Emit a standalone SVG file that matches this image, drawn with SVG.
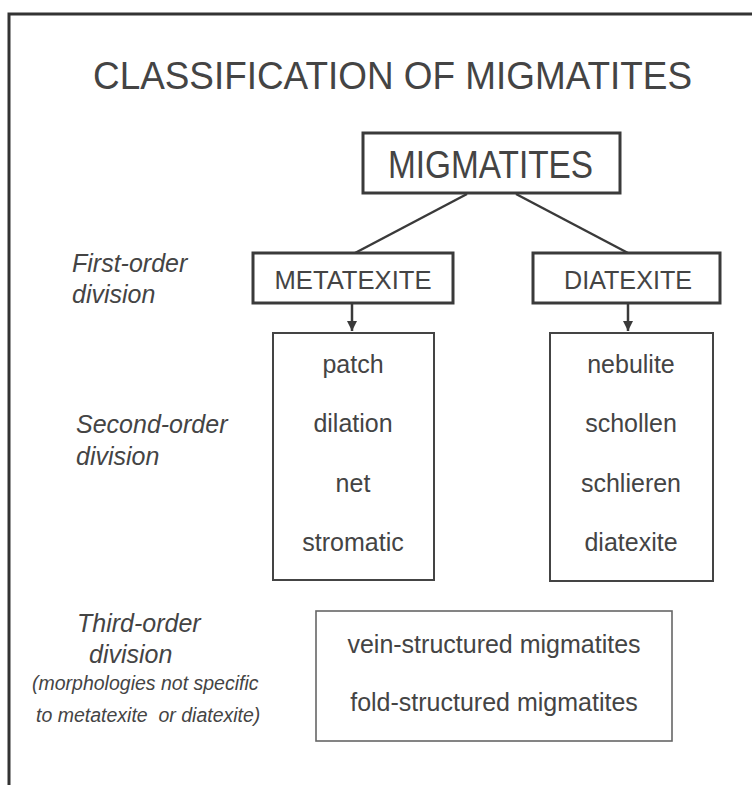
<svg xmlns="http://www.w3.org/2000/svg" width="752" height="785" viewBox="0 0 752 785">
<defs>
<style>
text{font-family:"Liberation Sans",Arial,sans-serif;fill:#444}
.big{font-size:38px}
.hdr{font-size:25px;text-anchor:middle}
.item{font-size:25px;text-anchor:middle}
.lbl{font-size:25px;font-style:italic}
.note{font-size:19.5px;font-style:italic}
.box1{fill:#fff;stroke:#3a3a3a;stroke-width:3}
.box2{fill:#fff;stroke:#444;stroke-width:2}
.box3{fill:#fff;stroke:#666;stroke-width:1.6}
.conn{stroke:#3a3a3a;stroke-width:2.5;fill:none}
</style>
<marker id="ah" viewBox="0 0 10 10" refX="10" refY="5" markerWidth="4" markerHeight="4.5" orient="auto" markerUnits="strokeWidth">
<path d="M0,0 L10,5 L0,10 z" fill="#3a3a3a"/>
</marker>
</defs>
<rect width="752" height="785" fill="#fff"/>
<g id="frame">
<path d="M9,785 V14 H752" fill="none" stroke="#333" stroke-width="3"/>
</g>
<g id="title">
<text class="big" x="93" y="89" textLength="599" lengthAdjust="spacingAndGlyphs">CLASSIFICATION OF MIGMATITES</text>
</g>
<g id="connectors">
<line class="conn" x1="467" y1="194" x2="355" y2="253"/>
<line class="conn" x1="516" y1="194" x2="628" y2="253"/>
<line class="conn" x1="352" y1="303" x2="352" y2="331" marker-end="url(#ah)"/>
<line class="conn" x1="628" y1="303" x2="628" y2="331" marker-end="url(#ah)"/>
</g>
<g id="migmatites">
<rect class="box1" x="363" y="133" width="257" height="60"/>
<text class="big" x="388" y="178" textLength="205" lengthAdjust="spacingAndGlyphs">MIGMATITES</text>
</g>
<g id="metatexite">
<rect class="box1" x="253" y="253" width="200" height="50"/>
<text class="hdr" x="353" y="289" textLength="157" lengthAdjust="spacingAndGlyphs">METATEXITE</text>
</g>
<g id="diatexite">
<rect class="box1" x="533" y="253" width="187" height="50"/>
<text class="hdr" x="628" y="289" textLength="128" lengthAdjust="spacingAndGlyphs">DIATEXITE</text>
</g>
<g id="metatexite-types">
<rect class="box2" x="273" y="333" width="161" height="247"/>
<text class="item" x="353" y="373">patch</text>
<text class="item" x="353" y="432">dilation</text>
<text class="item" x="353" y="492">net</text>
<text class="item" x="353" y="551">stromatic</text>
</g>
<g id="diatexite-types">
<rect class="box2" x="550" y="333" width="163" height="248"/>
<text class="item" x="631" y="373">nebulite</text>
<text class="item" x="631" y="432">schollen</text>
<text class="item" x="631" y="492">schlieren</text>
<text class="item" x="631" y="551">diatexite</text>
</g>
<g id="third-order-types">
<rect class="box3" x="316" y="611" width="356" height="130"/>
<text class="item" x="494" y="653">vein-structured migmatites</text>
<text class="item" x="494" y="711">fold-structured migmatites</text>
</g>
<g id="labels">
<text class="lbl" x="72" y="272">First-order</text>
<text class="lbl" x="72" y="303">division</text>
<text class="lbl" x="76" y="433">Second-order</text>
<text class="lbl" x="76" y="465">division</text>
<text class="lbl" x="77" y="632">Third-order</text>
<text class="lbl" x="89" y="663">division</text>
<text class="note" x="32" y="690">(morphologies not specific</text>
<text class="note" x="36" y="722" xml:space="preserve">to metatexite  or diatexite)</text>
</g>
</svg>
